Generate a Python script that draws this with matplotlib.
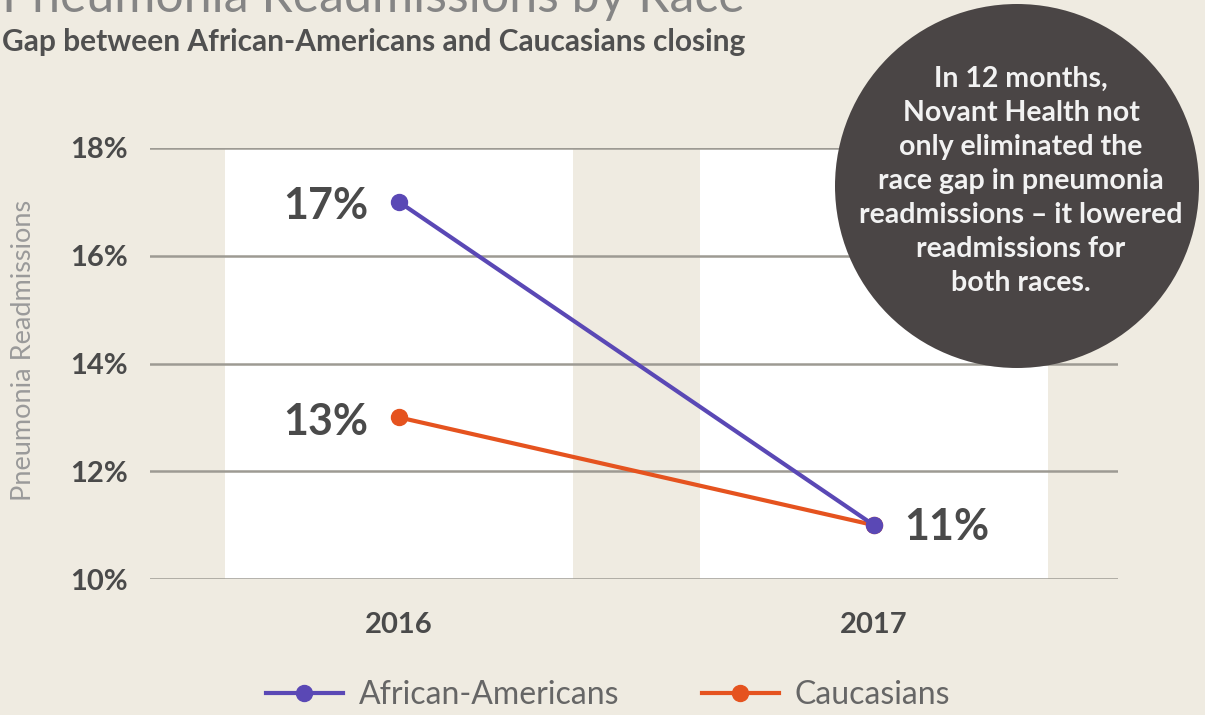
import matplotlib.pyplot as plt
from matplotlib.patches import Ellipse
from matplotlib.ticker import FuncFormatter

# values
years = ["2016", "2017"]
african_americans = [17, 11]
caucasians = [13, 11]
y_ticks = [10, 12, 14, 16, 18]

W, H = 1205, 715
BG = "#efebe1"
PURPLE = "#5a48b5"
ORANGE = "#e5531f"
TEXT = "#4a4a4a"

plt.rcParams["font.family"] = ["Lato", "DejaVu Sans"]

fig = plt.figure(figsize=(W / 100, H / 100), dpi=100, facecolor=BG)

# plot area in pixels: x 150..1118, y 148 (18%) .. 579 (10%)
ax = fig.add_axes([150 / W, (H - 579) / H, 968 / W, 431 / H])
ax.set_facecolor("none")
x = list(range(len(years)))

# white column behind each year
ax.bar(x, [y_ticks[-1] - y_ticks[0]] * len(x), bottom=y_ticks[0], width=0.733,
       color="white", zorder=1)

ax.set_xlim(-0.524, 1.514)
ax.set_ylim(y_ticks[0], y_ticks[-1])
ax.set_yticks(y_ticks)
ax.yaxis.set_major_formatter(FuncFormatter(lambda v, p: f"{v:.0f}%"))
ax.set_xticks(x)
ax.set_xticklabels(years)
ax.tick_params(length=0, labelsize=21, labelcolor=TEXT)
ax.tick_params(axis="y", pad=16)
ax.tick_params(axis="x", pad=24)
for lab in ax.get_xticklabels() + ax.get_yticklabels():
    lab.set_fontweight("bold")
for s in ax.spines.values():
    s.set_visible(False)
ax.grid(axis="y", color="#9d9a93", linewidth=1.8)
ax.grid(axis="x", visible=False)

ax.set_ylabel("Pneumonia Readmissions", fontsize=19.5, color="#9a9a9a")
ax.yaxis.set_label_coords(-0.118, 0.531)

ax.plot(x, african_americans, color=PURPLE, lw=3, marker="o", ms=11.5,
        label="African-Americans", zorder=4)
ax.plot(x, caucasians, color=ORANGE, lw=3, marker="o", ms=11.5,
        label="Caucasians", zorder=3)

# value labels
lab_kw = dict(textcoords="offset points", fontsize=31, fontweight="bold",
              color=TEXT, va="center")
ax.annotate(f"{african_americans[0]}%", (x[0], african_americans[0]),
            xytext=(-22, -3), ha="right", **lab_kw)
ax.annotate(f"{caucasians[0]}%", (x[0], caucasians[0]),
            xytext=(-22, -3), ha="right", **lab_kw)
ax.annotate(f"{african_americans[1]}%", (x[1], african_americans[1]),
            xytext=(22, -1), ha="left", **lab_kw)

# titles
fig.text(2 / W, 1 - 12 / H, "Pneumonia Readmissions by Race", fontsize=36,
         color="#858585", ha="left", va="baseline")
fig.text(2 / W, 1 - 51 / H, "Gap between African-Americans and Caucasians closing",
         fontsize=21.5, fontweight="bold", color="#505050", ha="left",
         va="baseline")

# callout bubble
r = 182
fig.add_artist(Ellipse((1017 / W, 1 - 186 / H), 2 * r / W, 2 * r / H,
                       transform=fig.transFigure, facecolor="#4a4545",
                       edgecolor="none", zorder=5))
fig.text(1021 / W, 1 - 181 / H,
         "In 12 months,\nNovant Health not\nonly eliminated the\n"
         "race gap in pneumonia\nreadmissions \u2013 it lowered\n"
         "readmissions for\nboth races.",
         fontsize=20.5, fontweight="bold", color="#f2f2f2", ha="center",
         va="center", linespacing=1.38, zorder=6)

fig.legend(loc="center", bbox_to_anchor=(608 / W, 1 - 695 / H), ncol=2,
           frameon=False, fontsize=23, labelcolor="#666666", handlelength=2.4,
           handletextpad=0.5, columnspacing=2.6)

fig.savefig("out.png", dpi=100, facecolor=BG)
